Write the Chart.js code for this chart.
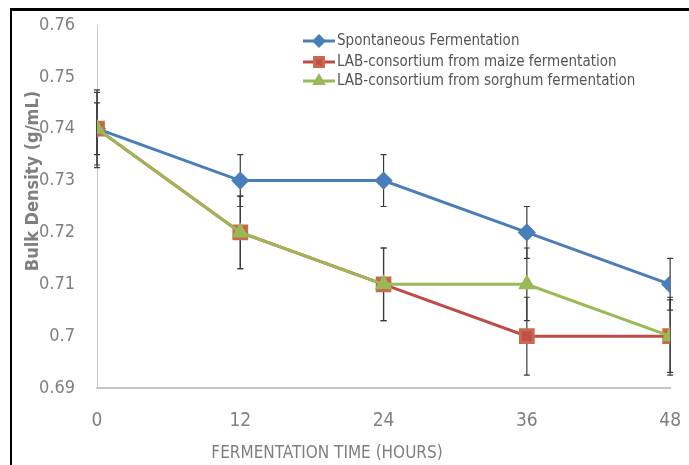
<!DOCTYPE html>
<html>
<head>
<meta charset="utf-8">
<title>Bulk Density</title>
<script src="https://cdn.jsdelivr.net/npm/chart.js@4.4.1/dist/chart.umd.min.js"></script>
<style>
  html, body { margin: 0; padding: 0; background: #fff; }
  #wrap { position: relative; width: 689px; height: 465px; overflow: hidden; }
  #frameTop { position: absolute; left: 10px; top: 8px; width: 679px; height: 3px; background: #000; }
  #frameLeft { position: absolute; left: 10px; top: 8px; width: 2px; height: 457px; background: #000; }
  canvas { position: absolute; left: 0; top: 0; }
</style>
</head>
<body>
<div id="wrap">
  <canvas id="chart" width="695" height="465"></canvas>
  <div id="frameTop"></div>
  <div id="frameLeft"></div>
</div>
<script>
// data
const hours = [0, 12, 24, 36, 48];
const spontaneous = [0.74, 0.73, 0.73, 0.72, 0.71];
const maizeLab = [0.74, 0.72, 0.71, 0.70, 0.70];
const sorghumLab = [0.74, 0.72, 0.71, 0.71, 0.70];
const spontaneousErr = [0.005, 0.005, 0.005, 0.005, 0.005];
const maizeErr = [0.0075, 0.007, 0.007, 0.0075, 0.0075];
const sorghumErr = [0.007, 0.007, 0.007, 0.007, 0.007];
const yTickLabels = ["0.69", "0.7", "0.71", "0.72", "0.73", "0.74", "0.75", "0.76"];
const xTickLabels = ["0", "12", "24", "36", "48"];
const seriesNames = [
    "Spontaneous Fermentation",
    "LAB-consortium from maize fermentation",
    "LAB-consortium from sorghum fermentation",
];

const NARROW = "'Liberation Sans Narrow', 'DejaVu Sans Condensed', sans-serif";

function toPoints(vals) {
    return vals.map((v, i) => ({ x: hours[i], y: v }));
}

const errors = [spontaneousErr, maizeErr, sorghumErr];

// error bars, drawn under the lines
const errorBars = {
    id: "errorBars",
    beforeDatasetsDraw(chart) {
        const ctx = chart.ctx;
        const xs = chart.scales.x, ys = chart.scales.y;
        ctx.save();
        ctx.strokeStyle = "#3a3a3a";
        ctx.lineWidth = 1.2;
        chart.data.datasets.forEach((ds, i) => {
            ds.data.forEach((p, j) => {
                const x = xs.getPixelForValue(p.x);
                const top = ys.getPixelForValue(p.y + errors[i][j]);
                const bot = ys.getPixelForValue(p.y - errors[i][j]);
                ctx.beginPath();
                ctx.moveTo(x, top); ctx.lineTo(x, bot);
                ctx.moveTo(x - 3, top); ctx.lineTo(x + 3, top);
                ctx.moveTo(x - 3, bot); ctx.lineTo(x + 3, bot);
                ctx.stroke();
            });
        });
        ctx.restore();
    },
};

// legend inside the plot + axis titles (placed like the original, off-centre)
const extras = {
    id: "extras",
    afterDraw(chart) {
        const ctx = chart.ctx;
        ctx.save();
        const rows = [41, 62, 81];
        chart.data.datasets.forEach((ds, i) => {
            const y = rows[i];
            ctx.strokeStyle = ds.borderColor;
            ctx.lineWidth = 3;
            ctx.beginPath();
            ctx.moveTo(303, y); ctx.lineTo(335, y);
            ctx.stroke();
            ctx.fillStyle = ds.pointBackgroundColor;
            ctx.strokeStyle = ds.pointBorderColor;
            Chart.helpers.drawPoint(ctx, {
                pointStyle: ds.pointStyle, radius: ds.pointRadius * 0.7, rotation: 0, borderWidth: 1,
            }, 319, y);
            ctx.fillStyle = "#555";
            ctx.font = "15px " + NARROW;
            ctx.textBaseline = "middle";
            ctx.textAlign = "left";
            ctx.fillText(seriesNames[i], 337, y);
        });

        ctx.fillStyle = "#7f7f7f";
        ctx.font = "17px " + NARROW;
        ctx.textAlign = "center";
        ctx.textBaseline = "middle";
        ctx.fillText("FERMENTATION TIME (HOURS)", 327, 454);

        ctx.translate(33, 181);
        ctx.rotate(-Math.PI / 2);
        ctx.font = "bold 18px " + "'DejaVu Sans Condensed', sans-serif";
        ctx.fillText("Bulk Density (g/mL)", 0, 0);
        ctx.restore();
    },
};

new Chart(document.getElementById("chart"), {
    type: "line",
    data: {
        datasets: [
            {
                label: seriesNames[0],
                data: toPoints(spontaneous),
                borderColor: "#4a7ebb",
                pointBackgroundColor: "#4a7ebb",
                pointBorderColor: "#4a7ebb",
                pointStyle: "rectRot",
                pointRadius: 7,
                borderWidth: 3,
                order: 3,
            },
            {
                label: seriesNames[1],
                data: toPoints(maizeLab),
                borderColor: "#be4b48",
                pointBackgroundColor: "#c0504d",
                pointBorderColor: "#c96a4e",
                pointStyle: "rect",
                pointRadius: 9,
                borderWidth: 3,
                order: 2,
            },
            {
                label: seriesNames[2],
                data: toPoints(sorghumLab),
                borderColor: "#98b954",
                pointBackgroundColor: "#98b954",
                pointBorderColor: "#98b954",
                pointStyle: "triangle",
                pointRadius: 7,
                borderWidth: 3,
                order: 1,
            },
        ],
    },
    options: {
        responsive: false,
        animation: false,
        layout: { padding: { top: 25, right: 0, left: 0, bottom: 0 } },
        plugins: { legend: { display: false }, tooltip: { enabled: false } },
        scales: {
            x: {
                type: "linear",
                min: 0,
                max: 48,
                afterFit(scale) { scale.height = 77; },
                afterBuildTicks(scale) { scale.ticks = hours.map(h => ({ value: h })); },
                grid: { display: false },
                border: { display: true, color: "#c4c4c4", width: 2 },
                ticks: {
                    padding: 14,
                    color: "#808080",
                    font: { size: 19, family: NARROW },
                    callback: (v) => xTickLabels[hours.indexOf(v)],
                },
            },
            y: {
                min: 0.69,
                max: 0.76,
                afterFit(scale) { scale.width = 97; },
                afterBuildTicks(scale) { scale.ticks = yTickLabels.map(t => ({ value: parseFloat(t) })); },
                grid: { display: false },
                border: { display: true, color: "#c8c8c8", width: 1 },
                ticks: {
                    padding: 14,
                    color: "#808080",
                    font: { size: 18, family: "'DejaVu Sans Condensed', sans-serif" },
                    callback: (v, i) => yTickLabels[i],
                },
            },
        },
    },
    plugins: [errorBars, extras],
});
</script>
</body>
</html>
